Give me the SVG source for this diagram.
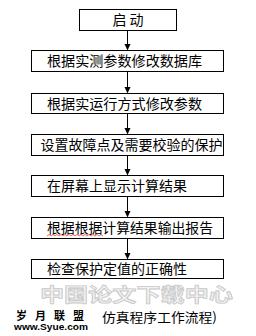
<svg xmlns="http://www.w3.org/2000/svg" width="256" height="336" viewBox="0 0 256 336">
<style>
.box{fill:#fff;stroke:#000;stroke-width:1}
.t{font-family:"Noto Sans CJK SC",sans-serif;font-size:14px;fill:#000}
.c{stroke:#000;stroke-width:1;fill:none}
.ah{fill:#000}
.wm{font-family:"Noto Sans CJK SC",sans-serif;fill:#f2f2f2;stroke:#c8c8c8;stroke-width:0.8;font-weight:bold}
</style>
<rect width="256" height="336" fill="#fff"/>
<g id="watermark">
<text class="wm" x="186" y="275" font-size="20" font-family="Liberation Sans, sans-serif">net</text>
<text class="wm" x="40" y="302" font-size="19" textLength="193" lengthAdjust="spacingAndGlyphs">中国论文下载中心</text>
</g>
<g id="connectors">
<line class="c" x1="127.5" y1="30.5" x2="127.5" y2="45"/><polygon class="ah" points="124.5,44 130.5,44 127.5,50.5"/>
<line class="c" x1="127.5" y1="71.5" x2="127.5" y2="88"/><polygon class="ah" points="124.5,87 130.5,87 127.5,93.5"/>
<line class="c" x1="127.5" y1="113.5" x2="127.5" y2="129"/><polygon class="ah" points="124.5,128 130.5,128 127.5,134.5"/>
<line class="c" x1="127.5" y1="155.5" x2="127.5" y2="170"/><polygon class="ah" points="124.5,169 130.5,169 127.5,175.5"/>
<line class="c" x1="127.5" y1="196.5" x2="127.5" y2="212"/><polygon class="ah" points="124.5,211 130.5,211 127.5,217.5"/>
<line class="c" x1="127.5" y1="238.5" x2="127.5" y2="254"/><polygon class="ah" points="124.5,253 130.5,253 127.5,259.5"/>
</g>
<g id="n1"><rect class="box" x="79.5" y="9.5" width="97" height="21"/><text class="t" x="128" y="25" text-anchor="middle">启 动</text></g>
<g id="n2"><rect class="box" x="31.5" y="50.5" width="192" height="21"/><text class="t" x="47" y="66" textLength="155" lengthAdjust="spacingAndGlyphs">根据实测参数修改数据库</text></g>
<g id="n3"><rect class="box" x="31.5" y="93.5" width="192" height="20"/><text class="t" x="47" y="108.5" textLength="155" lengthAdjust="spacingAndGlyphs">根据实运行方式修改参数</text></g>
<g id="n4"><rect class="box" x="31.5" y="134.5" width="192" height="21"/><text class="t" x="40.5" y="150" textLength="182" lengthAdjust="spacingAndGlyphs">设置故障点及需要校验的保护</text></g>
<g id="n5"><rect class="box" x="31.5" y="175.5" width="192" height="21"/><text class="t" x="47" y="191" textLength="140" lengthAdjust="spacingAndGlyphs">在屏幕上显示计算结果</text></g>
<g id="n6"><rect class="box" x="31.5" y="217.5" width="192" height="21"/><text class="t" x="47" y="233" textLength="166" lengthAdjust="spacingAndGlyphs">根据根据计算结果输出报告</text>
<path d="M47,236 l2,-1.5 l2,1.5 l2,-1.5 l2,1.5 l2,-1.5 l2,1.5 l2,-1.5 l2,1.5 l2,-1.5 l2,1.5 l2,-1.5 l2,1.5 l2,-1.5 l2,1.5 l2,-1.5 l2,1.5 l2,-1.5 l2,1.5 l2,-1.5 l2,1.5 l2,-1.5 l2,1.5 l2,-1.5 l2,1.5 l2,-1.5 l2,1.5 l2,-1.5 l2,1.5" fill="none" stroke="#e03030" stroke-width="0.7"/></g>
<g id="n7"><rect class="box" x="31.5" y="259.5" width="192" height="19"/><text class="t" x="47" y="274" textLength="140" lengthAdjust="spacingAndGlyphs">检查保护定值的正确性</text></g>
<g id="footer">
<text x="16" y="320" font-family="Noto Sans CJK SC,sans-serif" font-size="11" font-weight="bold" textLength="68" lengthAdjust="spacing">岁月联盟</text>
<text x="14" y="329.5" font-family="Liberation Sans,sans-serif" font-size="8.5" font-weight="bold" textLength="74" lengthAdjust="spacingAndGlyphs">www.Syue.com</text>
<text x="102" y="322" font-family="Noto Sans CJK SC,sans-serif" font-size="13" textLength="115" lengthAdjust="spacingAndGlyphs">仿真程序工作流程)</text>
</g>
</svg>
